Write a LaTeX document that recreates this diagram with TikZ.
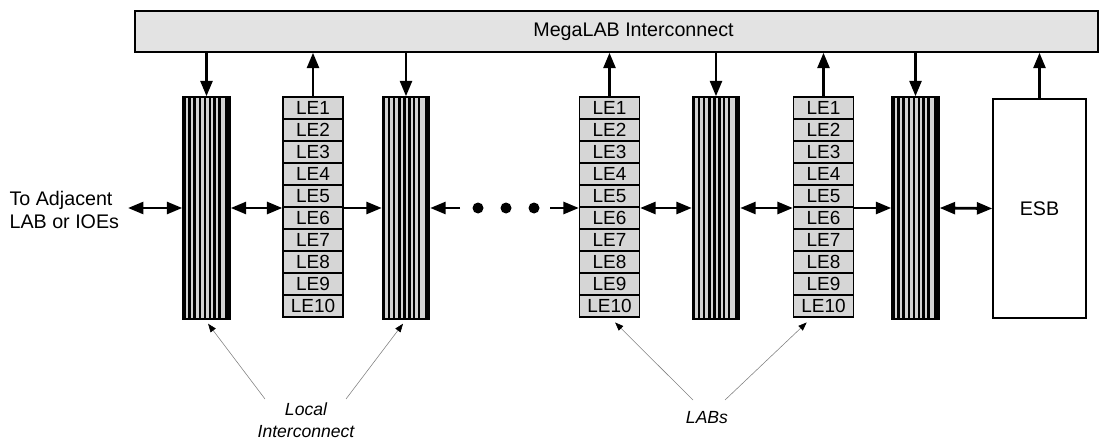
\documentclass[tikz,border=0pt]{standalone}
\usepackage{fontspec}
\setmainfont{Liberation Sans}
\usetikzlibrary{arrows.meta, calc}
\tikzstyle{megabar} = [draw, line width=1pt, fill=gray!22, inner sep=0pt,
                       minimum width=24.075cm, minimum height=1.025cm]
\tikzstyle{localic} = [draw, line width=1pt, fill=gray!35, inner sep=0pt,
                       minimum width=1.175cm, minimum height=5.55cm,
                       path picture={
                         \foreach \s in {1.5,6.5,11.5,17,22,27,31.5,36.5}
                           \draw[black, line width=1.6pt]
                             ($(path picture bounding box.north west)+(\s,0)$) --
                             ($(path picture bounding box.south west)+(\s,0)$);
                         \fill[black] ($(path picture bounding box.north east)+(-5,0)$)
                           rectangle (path picture bounding box.south east);}]
\tikzstyle{lebox} = [draw, line width=0.9pt, fill=gray!32, inner sep=0pt,
                     minimum width=1.5cm, minimum height=0.55cm,
                     font=\fontsize{13.5}{14}\selectfont]
\tikzstyle{esbbox} = [draw, line width=1pt, inner sep=0pt,
                      minimum width=2.325cm, minimum height=5.475cm]
\tikzstyle{bus} = [line width=2pt, -{Triangle[length=11pt,width=8.5pt]}]
\tikzstyle{bibus} = [line width=2pt, {Triangle[length=11pt,width=8.5pt]}-{Triangle[length=11pt,width=8.5pt]}]
\tikzstyle{pointer} = [line width=0.4pt, gray, -{Triangle[length=6pt,width=4.5pt,color=black]}]

\begin{document}
\begin{tikzpicture}[x=0.025cm, y=-0.025cm, font=\fontsize{14}{17}\selectfont]
  \useasboundingbox (0,0) rectangle (1100,440);
  % MegaLAB bar
  \node[megabar, label={[xshift=0.425cm]center:MegaLAB Interconnect}] (mega) at (616.5,31.5) {};
  % local interconnect columns
  \foreach \n/\x in {1/206.5, 2/406, 3/716, 4/915.5}
    \node[localic] (li\n) at (\x,208) {};
  % LAB columns
  \foreach \c/\x in {1/313, 2/609.5, 3/823.5}
    \foreach \r in {1,...,10}
      \node[lebox] (le\c-\r) at (\x,{108+22*(\r-1)}) {LE\r};
  \node[esbbox] (esb) at (1039.5,208.5) {ESB};
  % MegaLAB connections
  \foreach \n in {1,...,4}
    \draw[bus] (mega.south -| li\n) -- (li\n.north);
  \foreach \c in {1,...,3}
    \draw[bus] (le\c-1.north) -- (mega.south -| le\c-1);
  \draw[bus] (esb.north) -- (mega.south -| esb);
  % row of local connections
  \node[anchor=east, align=left] (adj) at (124,210) {To Adjacent\\LAB or IOEs};
  \coordinate (adjend) at (128,208);
  \draw[bibus] (adjend) -- (li1.west);
  \draw[bibus] (li1.east) -- (li1.east -| le1-5.west);
  \draw[bus] (li2.west -| le1-5.east) -- (li2.west);
  \coordinate (dotl) at (460,208);
  \coordinate (dotr) at (550,208);
  \draw[bus] (dotl) -- (li2.east);
  \foreach \d/\x in {1/478, 2/506, 3/534}
    \fill (\x,208) circle (5.5) coordinate (dot\d);
  \draw[bus] (dotr) -- (li2.east -| le2-5.west);
  \draw[bibus] (li3.west -| le2-5.east) -- (li3.west);
  \draw[bibus] (li3.east) -- (li3.east -| le3-5.west);
  \draw[bus] (li4.west -| le3-5.east) -- (li4.west);
  \draw[bibus] (li4.east) -- (esb.west);
  % labels
  \node[align=center, font=\fontsize{12.5}{15.5}\selectfont\itshape] (lic) at (306,420) {Local\\Interconnect};
  \node[font=\fontsize{12.5}{15}\selectfont\itshape] (labs) at (707,418) {LABs};
  \coordinate (licl) at (265,399);
  \coordinate (licr) at (346,399);
  \coordinate (labsl) at (693,400);
  \coordinate (labsr) at (725,400);
  \draw[pointer] (licl) -- ([xshift=0.04cm,yshift=-0.1cm]li1.south);
  \draw[pointer] (licr) -- ([xshift=-0.075cm,yshift=-0.1cm]li2.south);
  \draw[pointer] (labsl) -- ([xshift=0.14cm,yshift=-0.12cm]le2-10.south);
  \draw[pointer] (labsr) -- ([xshift=-0.42cm,yshift=-0.12cm]le3-10.south);
\end{tikzpicture}
\end{document}
